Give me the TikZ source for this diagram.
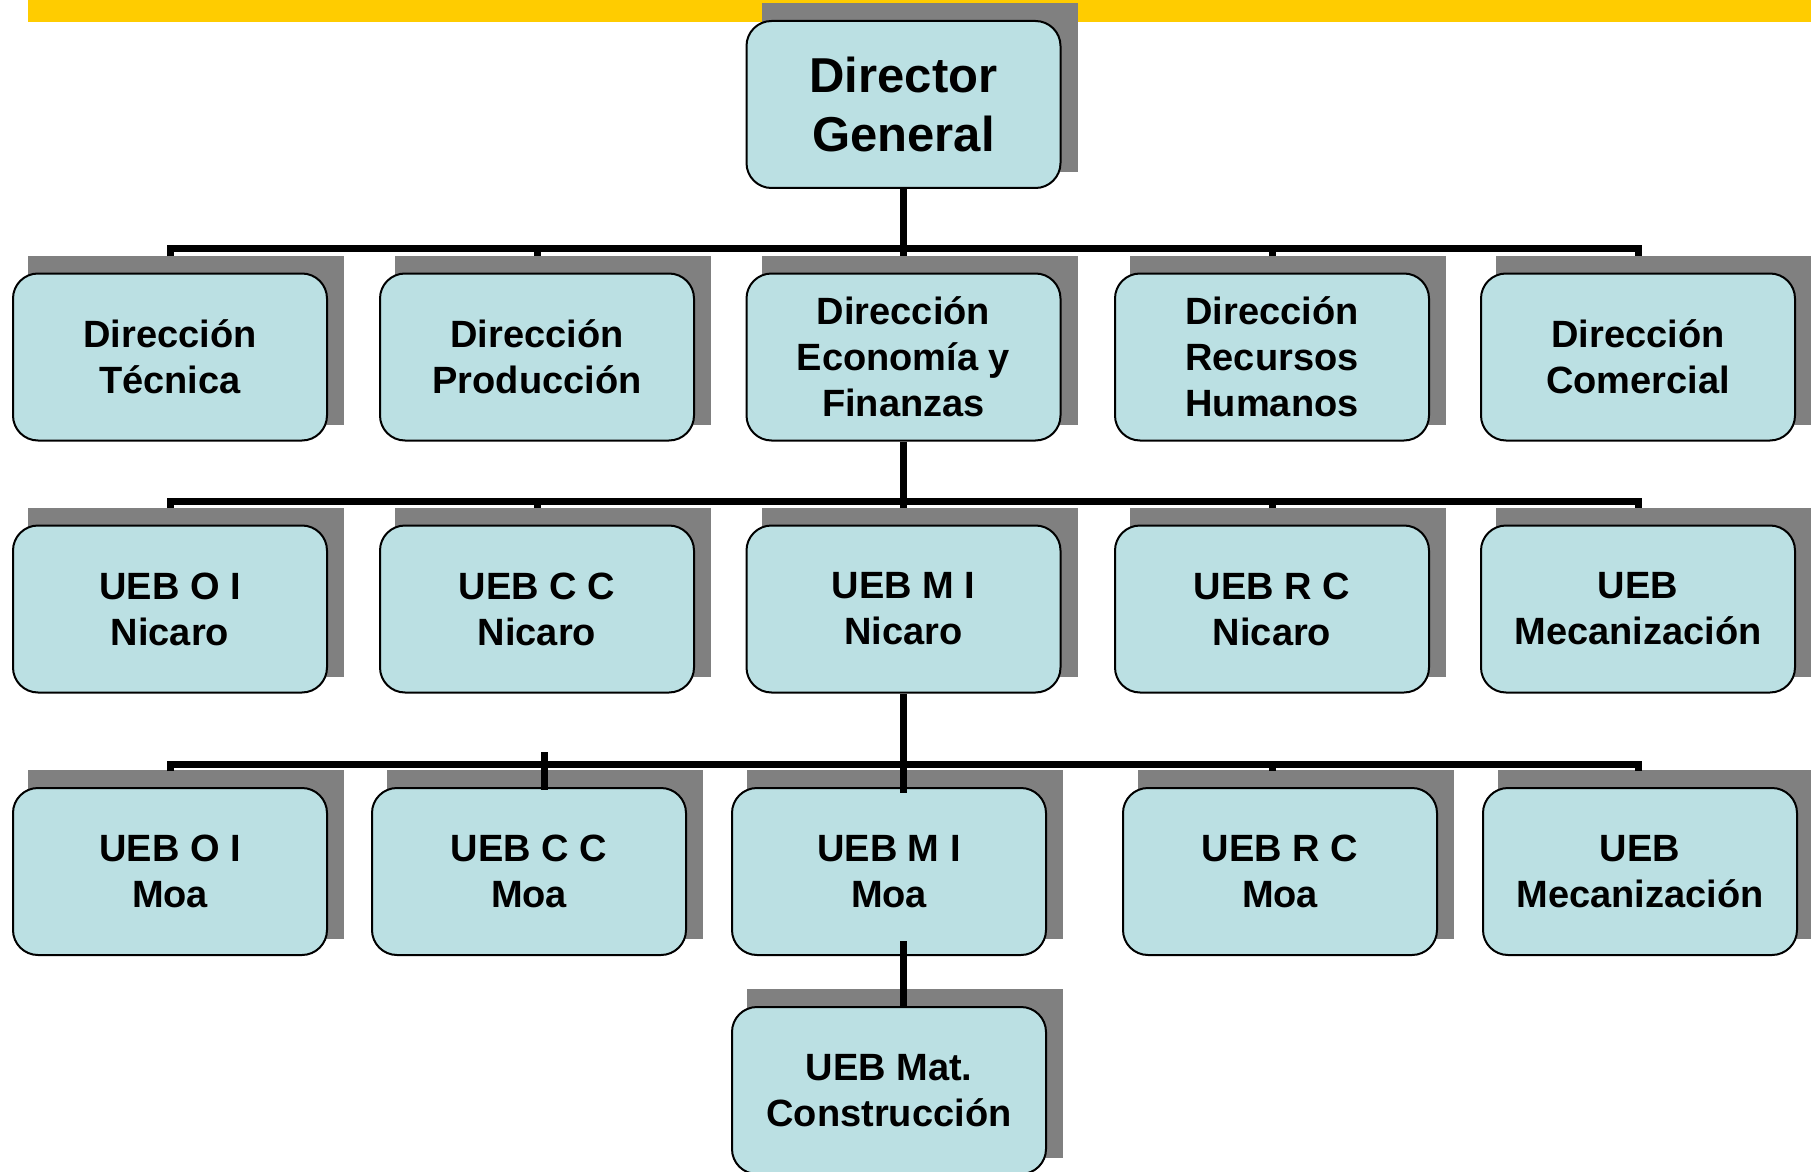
\documentclass[tikz,border=0pt]{standalone}
\usepackage{fontspec}
\setmainfont{Liberation Sans}
\pgfdeclarelayer{bg}
\pgfsetlayers{bg,main}
\definecolor{boxfill}{RGB}{187,224,227}
\definecolor{shadowgray}{RGB}{128,128,128}
\definecolor{baryellow}{RGB}{255,204,0}
\begin{document}
\begin{tikzpicture}[x=0.5pt,y=-0.5pt,
  unit/.style={draw=black, line width=1pt, fill=boxfill, rounded corners=12.5pt,
    minimum width=157pt, minimum height=83.5pt, inner sep=0pt, align=center,
    font=\bfseries\fontsize{19}{23}\selectfont},
  topunit/.style={unit, font=\bfseries\fontsize{24.5}{29.5}\selectfont},
  bus/.style={line width=3.5pt, draw=black},
  shadowrect/.style={fill=shadowgray},
]
\useasboundingbox (0,0) rectangle (1811,1172);

% nodes
\node[topunit] (dg) at (903.5,104.5) {Director\\General};

\node[unit] (a1) at (170,357) {Dirección\\Técnica};
\node[unit] (a2) at (537,357) {Dirección\\Producción};
\node[unit] (a3) at (903.5,357) {Dirección\\Economía y\\Finanzas};
\node[unit] (a4) at (1272,357) {Dirección\\Recursos\\Humanos};
\node[unit] (a5) at (1638,357) {Dirección\\Comercial};

\node[unit] (b1) at (170,609) {UEB O I\\Nicaro};
\node[unit] (b2) at (537,609) {UEB C C\\Nicaro};
\node[unit] (b3) at (903.5,609) {UEB M I\\Nicaro};
\node[unit] (b4) at (1272,609) {UEB R C\\Nicaro};
\node[unit] (b5) at (1638,609) {UEB\\Mecanización};

\node[unit] (c1) at (170,871.5) {UEB O I\\Moa};
\node[unit] (c2) at (529,871.5) {UEB C C\\Moa};
\node[unit] (c3) at (889,871.5) {UEB M I\\Moa};
\node[unit] (c4) at (1280,871.5) {UEB R C\\Moa};
\node[unit] (c5) at (1640,871.5) {UEB\\Mecanización};

\node[unit] (d1) at (889,1090.5) {UEB Mat.\\Construcción};

% background: bar and shadows
\begin{pgfonlayer}{bg}
  \fill[baryellow] (28,0) rectangle (1811,22);
  \foreach \n in {dg,a1,a2,a3,a4,a5,b1,b2,b3,b4,b5,c1,c2,c3,c4,c5,d1}{
    \fill[shadowgray] ([shift={(8pt,8.5pt)}]\n.south west) rectangle ([shift={(8pt,8.5pt)}]\n.north east);
  }
\end{pgfonlayer}

% bus coordinates
\coordinate (bus1) at (0,248);
\coordinate (top2) at (0,256);
\coordinate (bus2) at (0,501);
\coordinate (top3) at (0,508);
\coordinate (bus3) at (0,764);
\coordinate (top4) at (0,771);
\coordinate (tickA) at (544,752);
\coordinate (tickB) at (544,790);

% level 1 -> 2
\draw[bus] (dg.south) -- (dg.south |- bus1);
\draw[bus] (a1 |- top2) -- (a1 |- bus1) -- (a5 |- bus1) -- (a5 |- top2);
\foreach \n in {a2,a3,a4} \draw[bus] (\n |- bus1) -- (\n |- top2);

% level 2 -> 3
\draw[bus] (a3.south) -- (a3.south |- bus2);
\draw[bus] (b1 |- top3) -- (b1 |- bus2) -- (b5 |- bus2) -- (b5 |- top3);
\foreach \n in {b2,b3,b4} \draw[bus] (\n |- bus2) -- (\n |- top3);

% level 3 -> 4
\draw[bus] (b3.south) -- ([yshift=-3pt]b3.south |- c3.north);
\draw[bus] (b1 |- top4) -- (b1 |- bus3) -- (b5 |- bus3) -- (b5 |- top4);
\draw[bus] (b4 |- bus3) -- (b4 |- top4);
\draw[bus] (tickA) -- (tickB);

% level 4 -> 5
\draw[bus] ([yshift=7.5pt]b3.south |- c3.south) -- ([yshift=-1pt]b3.south |- d1.north);
\end{tikzpicture}
\end{document}
